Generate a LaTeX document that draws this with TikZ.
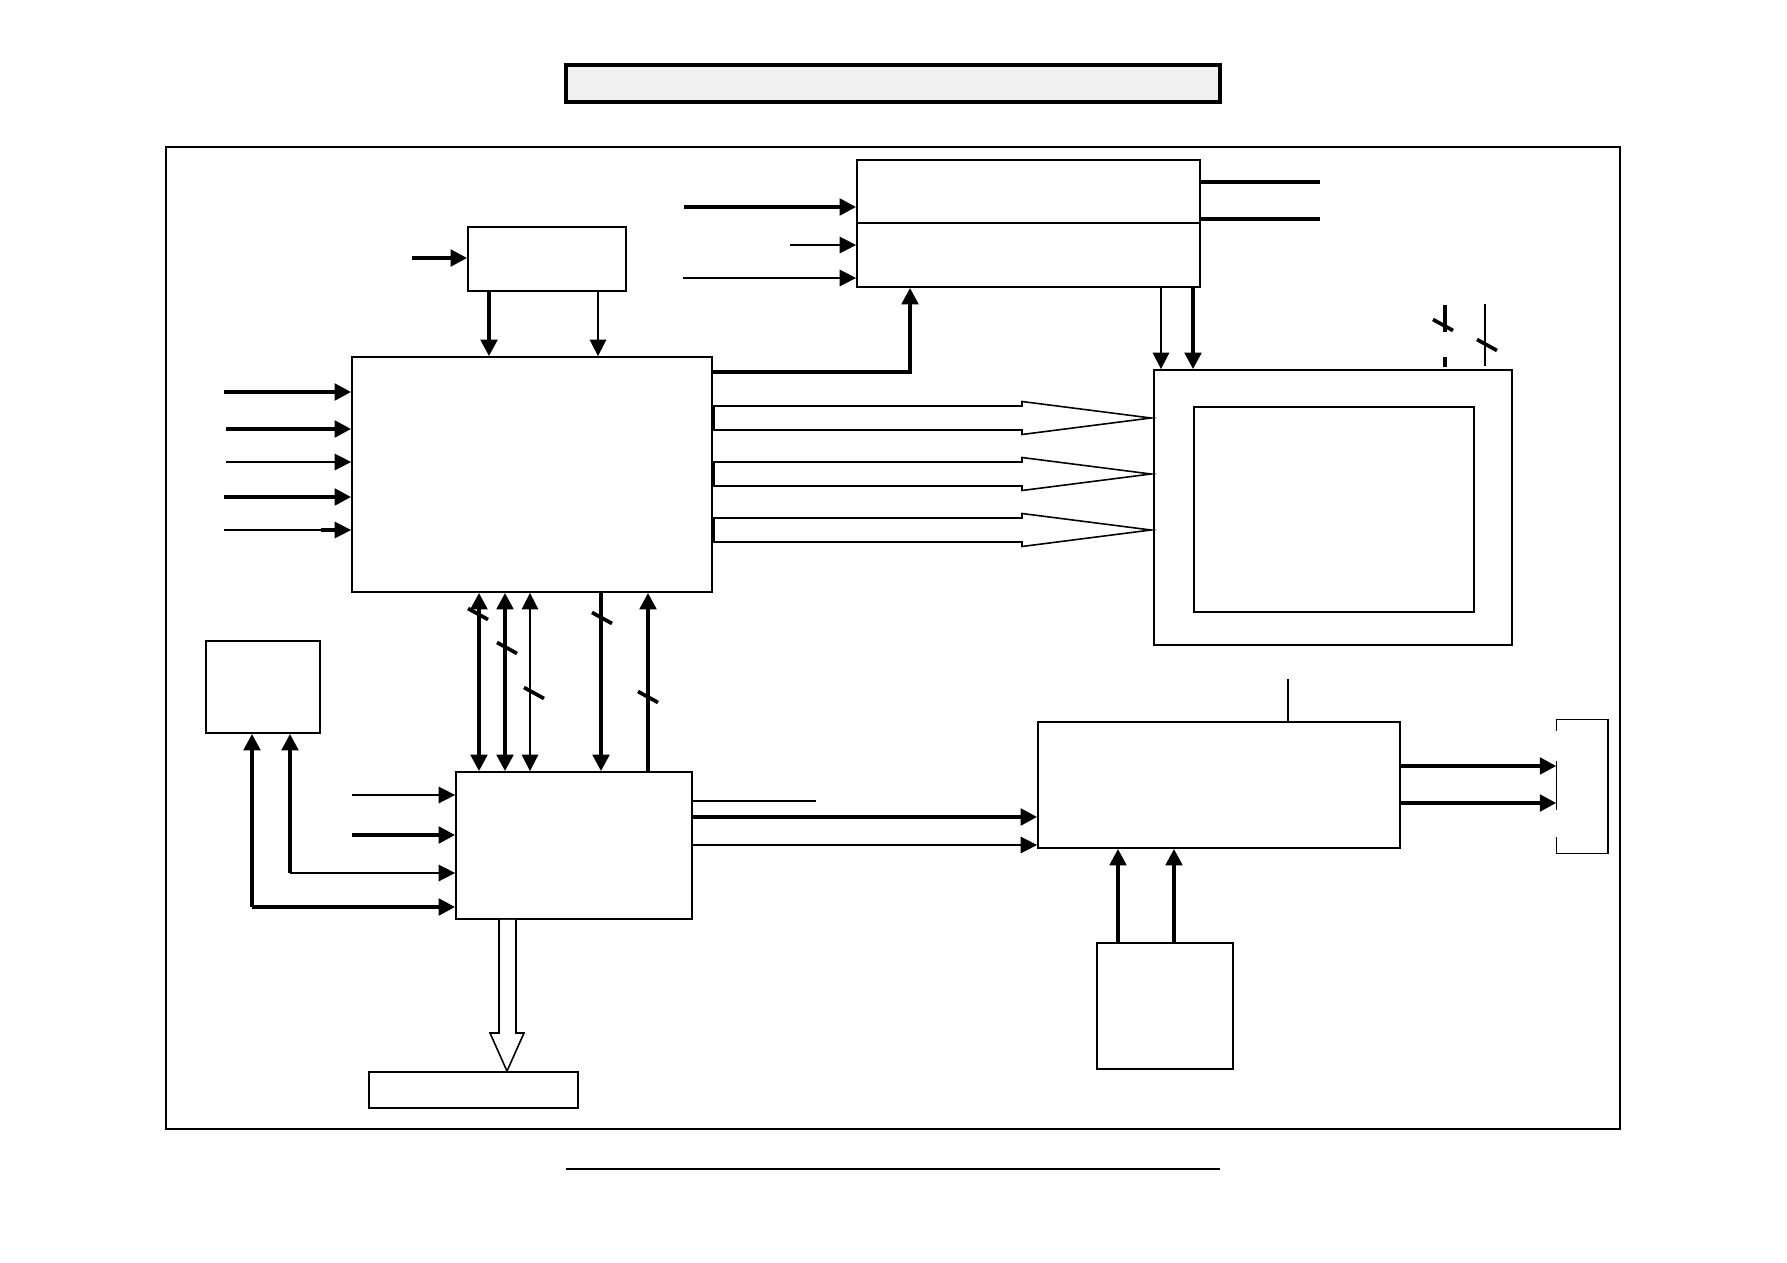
\documentclass[tikz,border=0pt]{standalone}
\usepackage{tikz}
\usetikzlibrary{arrows.meta, fit}

\begin{document}
\begin{tikzpicture}[x=0.1mm, y=-0.1mm,
  box/.style={draw, line width=0.5pt, inner sep=0pt},
  thn/.style={line width=0.45pt},
  thk/.style={line width=1.05pt},
  arr/.style={-{Triangle[length=1.65mm, width=1.65mm]}},
  rarr/.style={{Triangle[length=1.65mm, width=1.65mm]}-},
  darr/.style={{Triangle[length=1.65mm, width=1.65mm]}-{Triangle[length=1.65mm, width=1.65mm]}},
  fat/.style={draw, line width=0.45pt, fill=white}]

\useasboundingbox (0,0) rectangle (1787,1263);

% Title and frame
\node[box, line width=1.2pt, fill=gray!12, fit={(566,65) (1220,102)}] (title) {};
\node[box, line width=0.7pt, fit={(166,147) (1620,1129)}] (frame) {};
\coordinate (footL) at (566,1169);
\coordinate (footR) at (1220,1169);
\draw[thn] (footL) -- (footR);

% Blocks
\node[box, fit={(468,227) (626,291)}] (clk) {};
\node[box, fit={(352,357) (712,592)}] (ctrl) {};
\node[box, fit={(857,160) (1200,287)}] (pwr) {};
\node[box, fit={(1154,370) (1512,645)}] (lcd) {};
\node[box, fit={(1194,407) (1474,612)}] (panel) {};
\node[box, fit={(206,641) (320,733)}] (mem) {};
\node[box, fit={(456,772) (692,919)}] (io) {};
\node[box, fit={(369,1072) (578,1108)}] (ext) {};
\node[box, fit={(1038,722) (1400,848)}] (drv) {};
\node[box, fit={(1097,943) (1233,1069)}] (src) {};
\node[inner sep=0pt, fit={(1557,720) (1607,853)}] (conn) {};

% Divider and bracket
\draw[thn] (pwr.west |- 0,223) -- (pwr.east |- 0,223);
\draw[thn] (conn.north west) -- (conn.north east) -- (conn.south east) -- (conn.south west);
\draw[thn] (conn.north west) -- ++(0,12);
\draw[thn] (conn.west |- 0,761) -- (conn.west |- 0,810);
\draw[thn] (conn.south west) -- ++(0,-17);

% Inputs to controller
\foreach \y/\x/\w in {392/224/thk, 429/226/thk, 462/226/thn, 497/224/thk, 530/224/thn} {
  \coordinate (cin) at (\x,\y);
  \draw[arr, \w] (cin) -- (ctrl.west |- cin);
}
\draw[thk] (321,530) -- (340,530);

% Clock
\coordinate (clkin) at (412,258);
\draw[arr, thk] (clkin) -- (clkin -| clk.west);
\draw[arr, thk] (clk.south -| 489,0) -- (ctrl.north -| 489,0);
\draw[arr, thn] (clk.south -| 598,0) -- (ctrl.north -| 598,0);

% Power block
\coordinate (pin1) at (684,207);
\coordinate (pin2) at (790,245);
\coordinate (pin3) at (683,278);
\draw[arr, thk] (pin1) -- (pin1 -| pwr.west);
\draw[arr, thn] (pin2) -- (pin2 -| pwr.west);
\draw[arr, thn] (pin3) -- (pin3 -| pwr.west);
\coordinate (pout1) at (1320,182);
\coordinate (pout2) at (1320,219);
\draw[thk] (pwr.east |- pout1) -- (pout1);
\draw[thk] (pwr.east |- pout2) -- (pout2);
\draw[arr, thk] (ctrl.east |- 0,372) -| (pwr.south -| 910,0);
\draw[arr, thn] (pwr.south -| 1161,0) -- (lcd.north -| 1161,0);
\draw[arr, thk] (pwr.south -| 1193,0) -- (lcd.north -| 1193,0);

% Wide arrows to display
\foreach \y in {418,474,530}
  \draw[fat] (714,\y-12) -- (1022,\y-12) -- (1022,\y-16.5) -- (1151,\y)
    -- (1022,\y+16.5) -- (1022,\y+12) -- (714,\y+12) -- cycle;

% Lines above display
\draw[thk] (1445,305) -- (1445,332) (1445,357) -- (1445,367);
\draw[thn] (1485,304) -- (1485,366);

% Buses
\foreach \x/\tp/\w in {479/darr/thk, 505/darr/thk, 530/darr/thn, 601/arr/thk, 648/rarr/thk}
  \draw[\tp, \w] (ctrl.south -| \x,0) -- (io.north -| \x,0);
\foreach \x/\y in {478/614, 507/648, 534/693, 602/618, 648/697, 1443/325, 1487/345}
  \draw[thk] (\x-10,\y-5.5) -- (\x+10,\y+5.5);

% Memory
\coordinate (m1) at (252,907);
\coordinate (m2) at (290,873);
\draw[arr, thk] (m1) -- (mem.south -| m1);
\draw[arr, thk] (m1) -- (io.west |- m1);
\draw[arr, thk] (m2) -- (mem.south -| m2);
\draw[arr, thn] (m2) -- (io.west |- m2);

% I/O block
\coordinate (iin1) at (352,795);
\coordinate (iin2) at (352,835);
\draw[arr, thn] (iin1) -- (io.west |- iin1);
\draw[arr, thk] (iin2) -- (io.west |- iin2);
\coordinate (iout) at (816,801);
\draw[thn] (io.east |- iout) -- (iout);
\draw[arr, thk] (io.east |- 0,817) -- (drv.west |- 0,817);
\draw[arr, thn] (io.east |- 0,845) -- (drv.west |- 0,845);
\draw[fat] (io.south -| 499,0) -- (499,1033) -- (490,1033) -- (ext.north -| 507,0)
  -- (524,1033) -- (516,1033) -- (io.south -| 516,0);

% Driver
\coordinate (drvtop) at (1288,679);
\draw[thn] (drv.north -| drvtop) -- (drvtop);
\draw[arr, thk] (drv.east |- 0,766) -- (conn.west |- 0,766);
\draw[arr, thk] (drv.east |- 0,803) -- (conn.west |- 0,803);
\draw[arr, thk] (src.north -| 1118,0) -- (drv.south -| 1118,0);
\draw[arr, thk] (src.north -| 1174,0) -- (drv.south -| 1174,0);

\end{tikzpicture}
\end{document}
